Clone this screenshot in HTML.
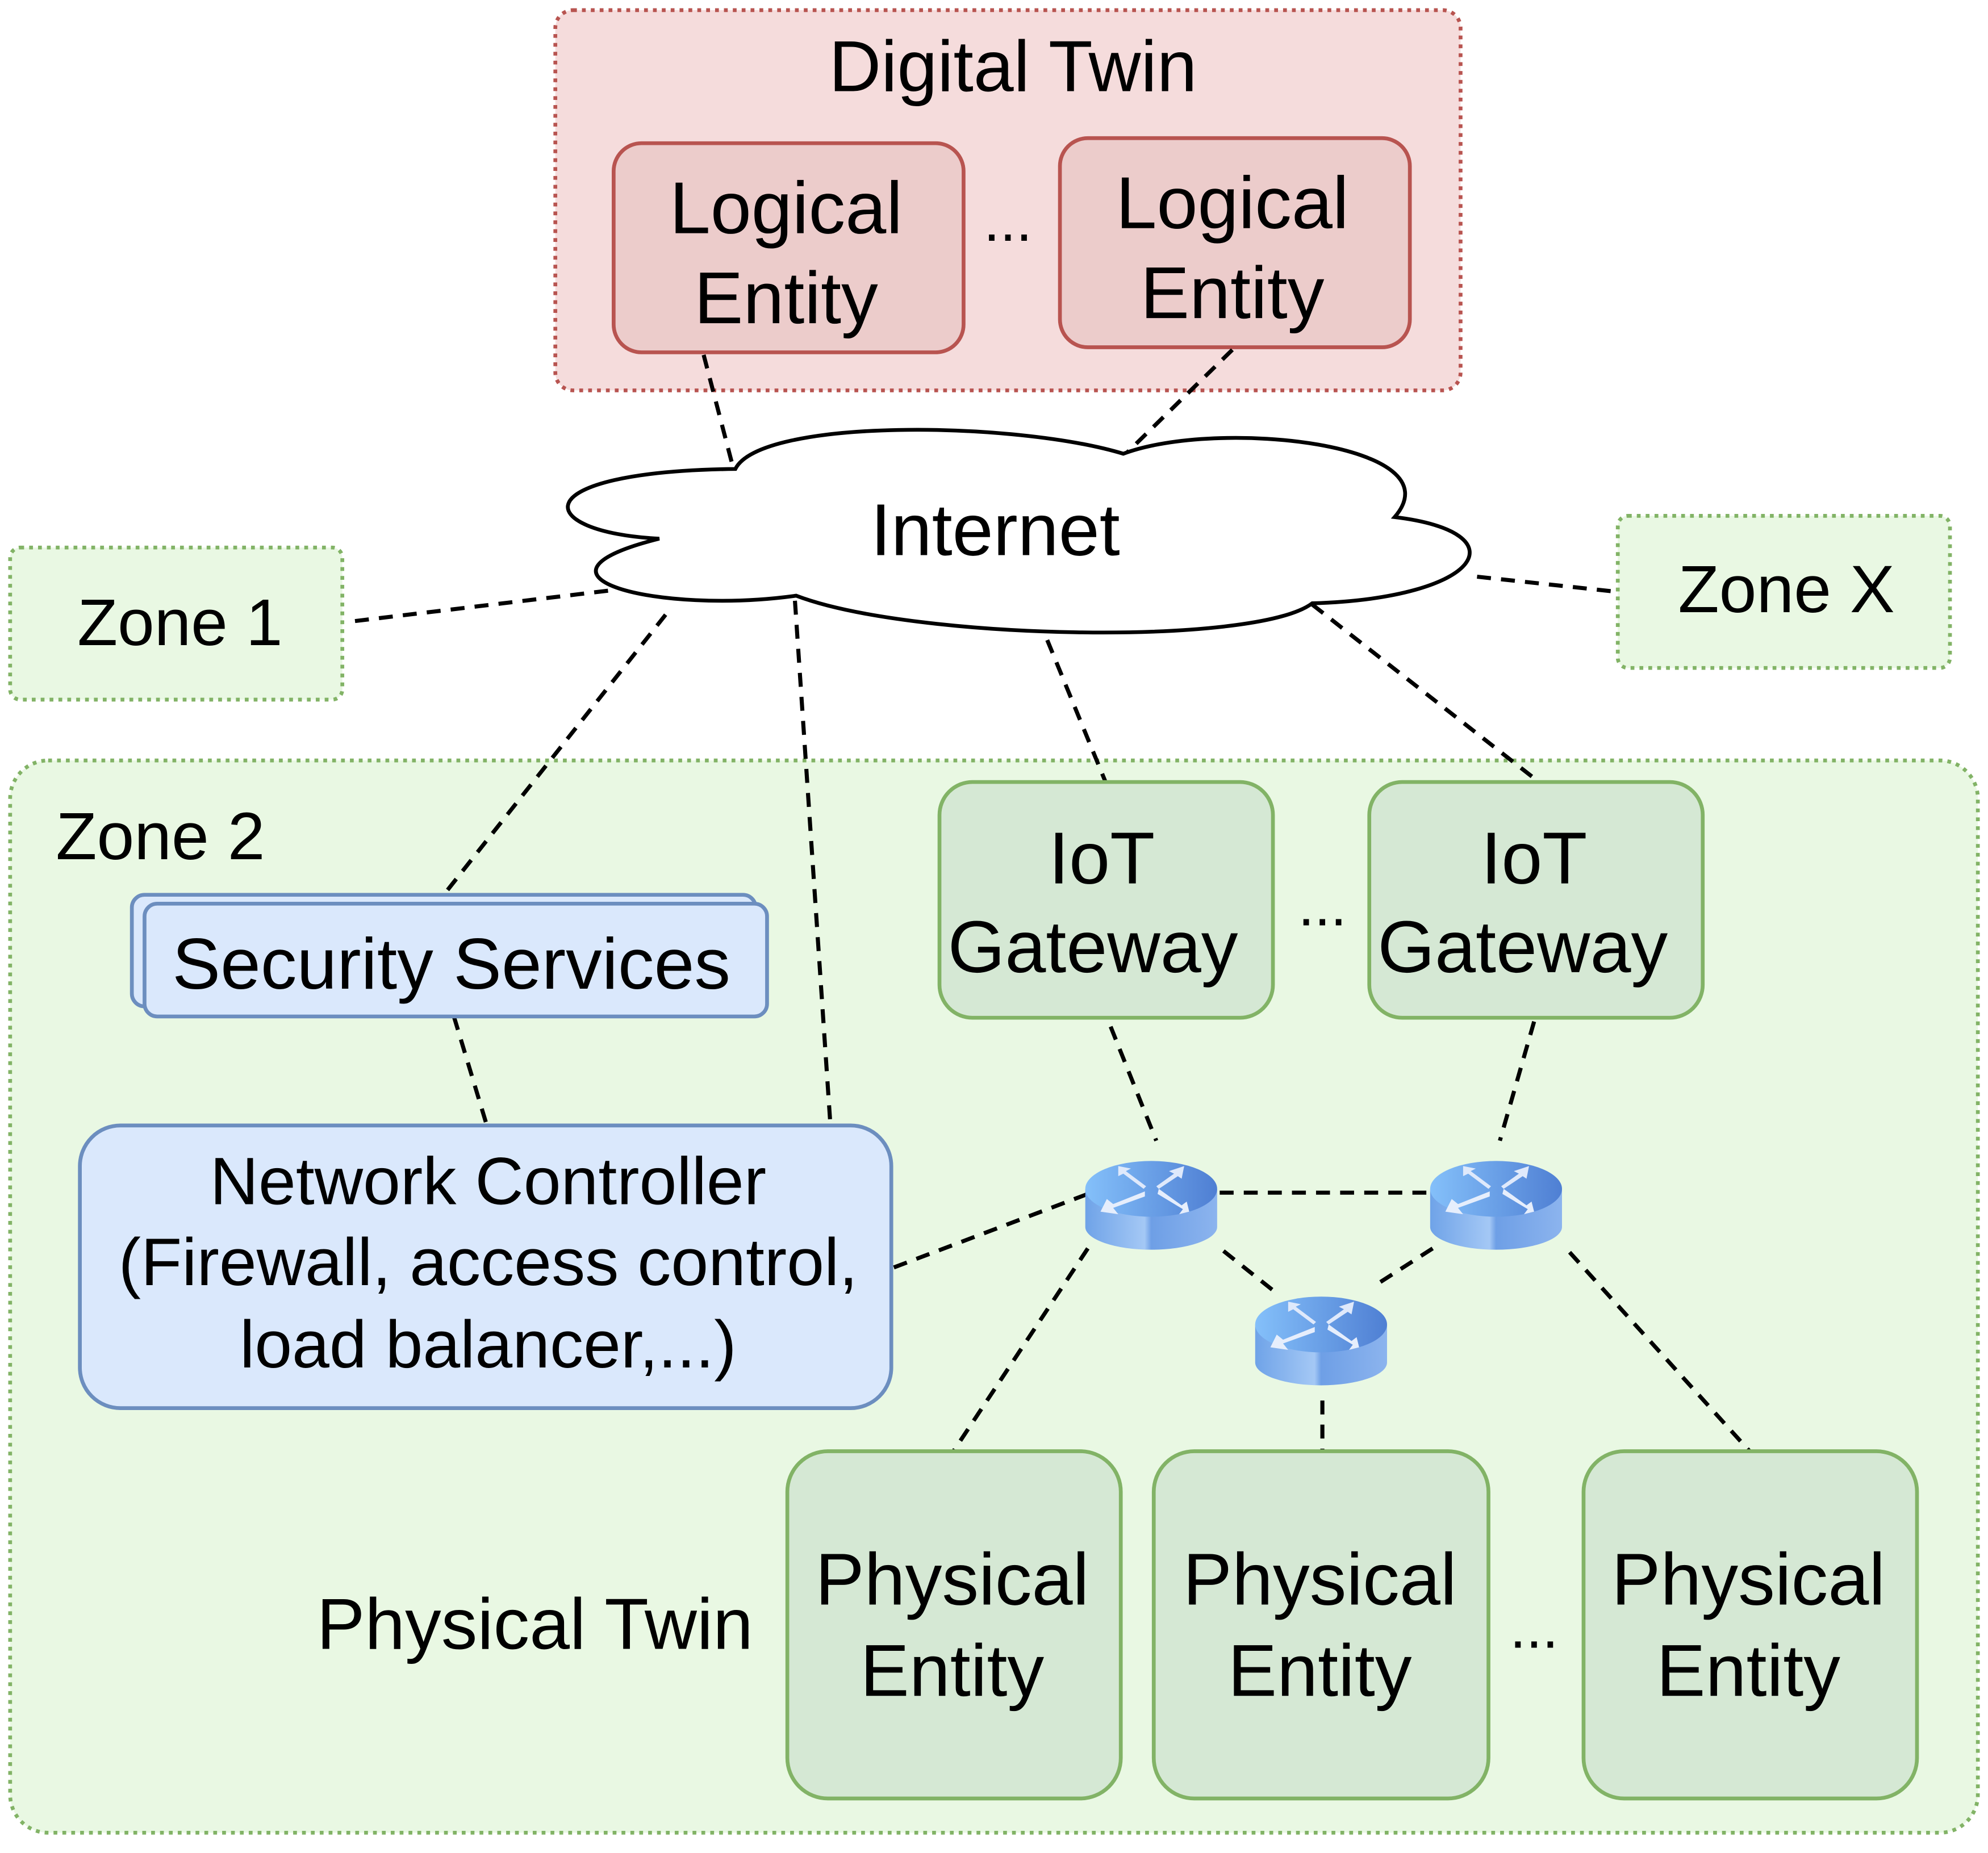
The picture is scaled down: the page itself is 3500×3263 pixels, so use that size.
<!DOCTYPE html>
<html><head><meta charset="utf-8"><style>
html,body{margin:0;padding:0;background:#fff;}
svg{display:block;}
text{font-family:"Liberation Sans",Arial,sans-serif;fill:#000;}
</style></head><body>
<svg width="3500" height="3263" viewBox="0 0 1568 1462" preserveAspectRatio="none" xmlns="http://www.w3.org/2000/svg">
<defs>
<linearGradient id="rside" x1="0" x2="1" y1="0" y2="0">
<stop offset="0" stop-color="#6fa3e8"/><stop offset="0.45" stop-color="#a4c8f5"/><stop offset="0.5" stop-color="#6e9fe6"/><stop offset="1" stop-color="#8cb4ee"/></linearGradient>
<linearGradient id="rtop" x1="0" x2="1" y1="0" y2="0">
<stop offset="0" stop-color="#84c0fa"/><stop offset="1" stop-color="#4f7fd3"/></linearGradient>
<g id="router">
<path d="M-52 -12 L-52 18 A52 18 0 0 0 52 18 L52 -12 Z" fill="url(#rside)"/>
<ellipse cx="0" cy="-12" rx="52" ry="22" fill="url(#rtop)"/>
<path d="M-5 -10 L-30 0 L-35 -4 L-40 6 L-26 8 L-30 3 L-5 -6 Z" fill="#e6eefc"/>
<path d="M5 -8 L25 4 L22 8 L30 6 L28 -2 L24 1 L6 -12 Z" fill="#e6eefc"/>
<path d="M-4 -14 L-20 -26 L-16 -28 L-26 -30 L-26 -22 L-22 -24 L-6 -12 Z" fill="#dfe9fb"/>
<path d="M4 -14 L18 -24 L14 -26 L26 -30 L24 -20 L21 -22 L6 -12 Z" fill="#dfe9fb"/>
</g>
</defs>
<rect x="8" y="600" width="1552" height="846" rx="30" fill="#e9f8e3" stroke="#82b366" stroke-width="3" stroke-dasharray="3 4"/>
<rect x="8" y="432" width="262" height="120" rx="8" fill="#e9f8e3" stroke="#82b366" stroke-width="3" stroke-dasharray="3 4"/>
<text x="142" y="509" font-size="52" text-anchor="middle">Zone 1</text>
<rect x="1276" y="407" width="262" height="120" rx="8" fill="#e9f8e3" stroke="#82b366" stroke-width="3" stroke-dasharray="3 4"/>
<text x="1409" y="483" font-size="53" text-anchor="middle">Zone X</text>
<rect x="438" y="8" width="714" height="300" rx="14" fill="#f5dcdc" stroke="#b85450" stroke-width="3" stroke-dasharray="3 4"/>
<text x="799" y="72" font-size="57" text-anchor="middle">Digital Twin</text>
<rect x="484" y="113" width="276" height="165" rx="22" fill="#eccccb" stroke="#b85450" stroke-width="3"/>
<text x="620" y="184" font-size="58" text-anchor="middle">Logical</text>
<text x="620" y="255" font-size="58" text-anchor="middle">Entity</text>
<rect x="836" y="109" width="276" height="165" rx="22" fill="#eccccb" stroke="#b85450" stroke-width="3"/>
<text x="972" y="180" font-size="58" text-anchor="middle">Logical</text>
<text x="972" y="251" font-size="58" text-anchor="middle">Entity</text>
<text x="795" y="190" font-size="46" text-anchor="middle">...</text>
<g stroke="#000" stroke-width="3.2" stroke-dasharray="11 8" fill="none">
<line x1="555" y1="280" x2="578" y2="368"/>
<line x1="972" y1="276" x2="888" y2="358"/>
<line x1="280" y1="490" x2="480" y2="466"/>
<line x1="1165" y1="455" x2="1276" y2="467"/>
<line x1="525" y1="485" x2="350" y2="706"/>
<line x1="627" y1="474" x2="655" y2="888"/>
<line x1="826" y1="505" x2="872" y2="617"/>
<line x1="1035" y1="477" x2="1210" y2="614"/>
<line x1="358" y1="802" x2="384" y2="888"/>
<line x1="876" y1="810" x2="912" y2="900"/>
<line x1="1210" y1="806" x2="1183" y2="900"/>
<line x1="705" y1="1000" x2="858" y2="942"/>
<line x1="962" y1="941" x2="1128" y2="941"/>
<line x1="858" y1="985" x2="752" y2="1145"/>
<line x1="965" y1="987" x2="1004" y2="1018"/>
<line x1="1130" y1="985" x2="1088" y2="1012"/>
<line x1="1043" y1="1105" x2="1043" y2="1145"/>
<line x1="1238" y1="988" x2="1380" y2="1145"/>
</g>
<path d="M520 425 C420 420,410 372,580 370 C600 330,800 332,886 358 C960 330,1150 350,1100 408 C1200 420,1170 472,1035 476 C990 510,720 505,628 470 C520 485,400 455,520 425 Z" fill="#fff" stroke="#000" stroke-width="3"/>
<text x="785" y="438" font-size="58" text-anchor="middle">Internet</text>
<text x="44" y="678" font-size="53">Zone 2</text>
<rect x="104" y="706" width="492" height="88" rx="10" fill="#dae8fc" stroke="#6c8ebf" stroke-width="3"/>
<rect x="114" y="713" width="491" height="89" rx="10" fill="#dae8fc" stroke="#6c8ebf" stroke-width="3"/>
<text x="356" y="780" font-size="57" text-anchor="middle">Security Services</text>
<rect x="63" y="888" width="640" height="223" rx="32" fill="#dae8fc" stroke="#6c8ebf" stroke-width="3"/>
<text x="385" y="950" font-size="53" text-anchor="middle">Network Controller</text>
<text x="385" y="1014" font-size="53" text-anchor="middle">(Firewall, access control,</text>
<text x="385" y="1079" font-size="53" text-anchor="middle">load balancer,...)</text>
<rect x="741" y="617" width="263" height="186" rx="26" fill="#d5e8d4" stroke="#82b366" stroke-width="3"/>
<text x="869" y="697" font-size="58" text-anchor="middle">IoT</text>
<text x="862" y="767" font-size="58" text-anchor="middle">Gateway</text>
<rect x="1080" y="617" width="263" height="186" rx="26" fill="#d5e8d4" stroke="#82b366" stroke-width="3"/>
<text x="1210" y="697" font-size="58" text-anchor="middle">IoT</text>
<text x="1201" y="767" font-size="58" text-anchor="middle">Gateway</text>
<text x="1043" y="730" font-size="46" text-anchor="middle">...</text>
<use href="#router" x="908" y="950"/>
<use href="#router" x="1180" y="950"/>
<use href="#router" x="1042" y="1057"/>
<rect x="621" y="1145" width="263" height="274" rx="32" fill="#d5e8d4" stroke="#82b366" stroke-width="3"/>
<text x="751" y="1266" font-size="58" text-anchor="middle">Physical</text>
<text x="751" y="1338" font-size="58" text-anchor="middle">Entity</text>
<rect x="910" y="1145" width="264" height="274" rx="32" fill="#d5e8d4" stroke="#82b366" stroke-width="3"/>
<text x="1041" y="1266" font-size="58" text-anchor="middle">Physical</text>
<text x="1041" y="1338" font-size="58" text-anchor="middle">Entity</text>
<rect x="1249" y="1145" width="263" height="274" rx="32" fill="#d5e8d4" stroke="#82b366" stroke-width="3"/>
<text x="1379" y="1266" font-size="58" text-anchor="middle">Physical</text>
<text x="1379" y="1338" font-size="58" text-anchor="middle">Entity</text>
<text x="1210" y="1300" font-size="46" text-anchor="middle">...</text>
<text x="594" y="1301" font-size="57" text-anchor="end">Physical Twin</text>
</svg>
</body></html>
